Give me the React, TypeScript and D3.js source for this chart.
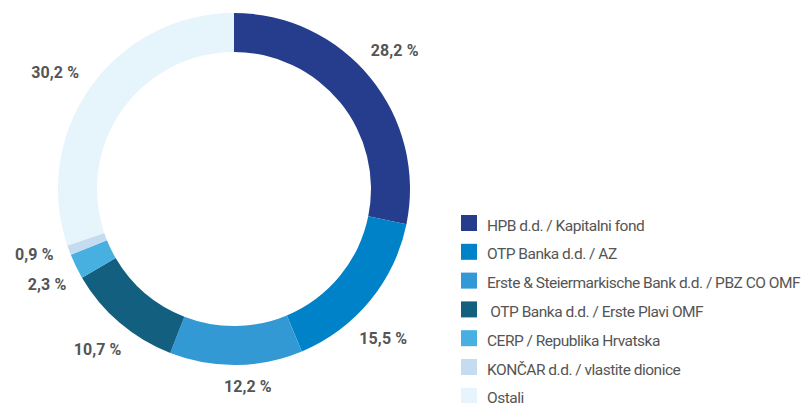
import React from "react";
import * as d3 from "d3";

const categories = [
  "HPB d.d. / Kapitalni fond",
  "OTP Banka d.d. / AZ",
  "Erste & Steiermarkische Bank d.d. / PBZ CO OMF",
  " OTP Banka d.d. / Erste Plavi OMF",
  "CERP / Republika Hrvatska",
  "KONČAR d.d. / vlastite dionice",
  "Ostali",
];
const values = [28.2, 15.5, 12.2, 10.7, 2.3, 0.9, 30.2];
const valueLabels = ["28,2 %", "15,5 %", "12,2 %", "10,7 %", "2,3 %", "0,9 %", "30,2 %"];
const colors = ["#253d8c", "#0082c8", "#3399d4", "#135f80", "#47b0e0", "#c5dcf0", "#e6f4fc"];
// small angular nudges (degrees) used to keep the outside labels apart
const labelNudgeDeg = [-1.5, 5.6, -3.3, 0, -0.9, 2.2, -2.6];

const W = 807;
const H = 403;
const cx = 234;
const cy = 189;
const outerR = 176;
const innerR = 137;
const anchorR = 190;
const labelSize = 16;
const labelFont = `bold ${labelSize}px Roboto`;
const labelSpacing = 0.1;

function measure(text: string, font: string, spacing: number) {
  if (typeof document === "undefined") return text.length * 8;
  const c = document.createElement("canvas");
  const ctx = c.getContext("2d");
  if (!ctx) return text.length * 8;
  ctx.font = font;
  return ctx.measureText(text).width + spacing * (text.length - 1);
}

export default function App() {
  const pie = d3.pie<number>().sort(null).value((d) => d)(values);
  const arc = d3.arc<d3.PieArcDatum<number>>().innerRadius(innerR).outerRadius(outerR);

  const legendY = d3.scaleLinear().domain([0, 1]).range([215, 243.8]);

  return (
    <svg
      width={W}
      height={H}
      style={{ position: "absolute", left: 0, top: 0, display: "block", background: "#fff" }}
    >
      <g transform={`translate(${cx},${cy})`}>
        {pie.map((p, i) => (
          <path key={i} d={arc(p) || ""} fill={colors[i]} />
        ))}
        {pie.map((p, i) => {
          const a = (p.startAngle + p.endAngle) / 2 + (labelNudgeDeg[i] * Math.PI) / 180;
          const s = Math.sin(a);
          const c = Math.cos(a);
          const hw = measure(valueLabels[i], labelFont, labelSpacing) / 2;
          const hh = 6;
          const r = anchorR + Math.abs(s) * hw + Math.abs(c) * hh;
          const x = r * s;
          const y = -r * c;
          return (
            <text
              key={i}
              x={x}
              y={y}
              dy="0.36em"
              textAnchor="middle"
              fontFamily="Roboto, sans-serif"
              fontWeight="bold"
              fontSize={labelSize}
              letterSpacing={labelSpacing}
              fill="#555"
            >
              {valueLabels[i]}
            </text>
          );
        })}
      </g>
      <g>
        {categories.map((c, i) => (
          <g key={i} transform={`translate(461,${legendY(i)})`}>
            <rect x={0} y={0} width={16} height={16} fill={colors[i]} />
            <text
              x={26}
              y={15.5}
              fontFamily="Roboto, sans-serif"
              fontSize={15.5}
              letterSpacing={-0.5}
              fill="#555"
              style={{ whiteSpace: "pre" }}
            >
              {c}
            </text>
          </g>
        ))}
      </g>
    </svg>
  );
}
